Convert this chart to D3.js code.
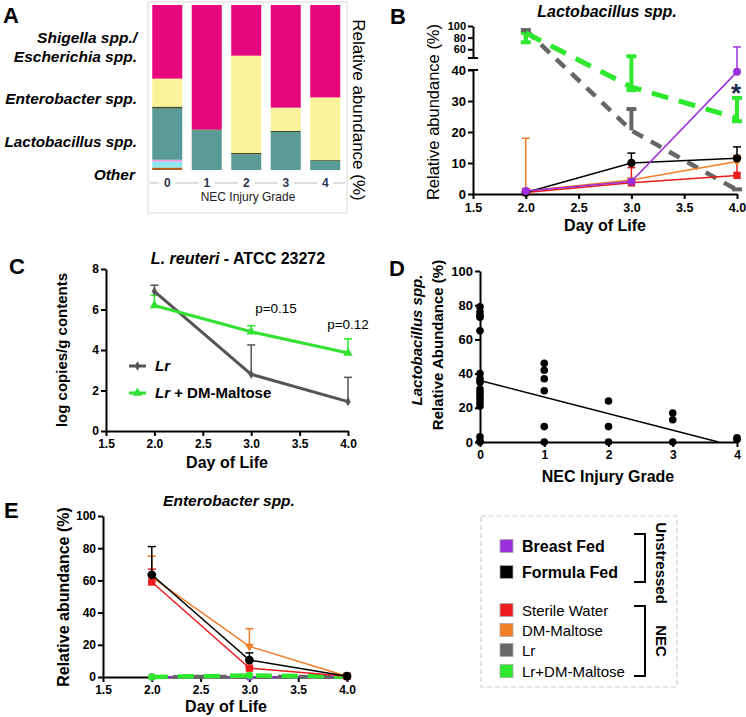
<!DOCTYPE html>
<html><head><meta charset="utf-8">
<script src="https://cdn.jsdelivr.net/npm/d3@7"></script>
<style>body{margin:0;background:#fff}</style>
</head><body><svg id="c" width="746" height="717"></svg>
<script>
const FONT = '"Liberation Sans", Arial, Helvetica, sans-serif';
// ---------- DATA ----------
// Panel A: stacked relative abundance by NEC grade
const aGrades = ["0","1","2","3","4"];
const aLayers = ["Brown","Cyan","Pink","Lactobacillus","Olive","Enterobacter","Shigella"];
const aOtherBrown = [1.5, 0, 0, 0, 0];
const aOtherCyan  = [3.5, 0, 0, 0, 0];
const aOtherPink  = [1.2, 0, 0, 0, 0];
const aLacto      = [31, 24, 9.5, 23, 5.5];
const aOlive      = [1.2, 0.6, 0.8, 0.8, 0.5];
const aEntero     = [17, 0, 59, 14, 38];
const aShigella   = [44.6, 75.4, 30.7, 62.2, 56];
const aColors = ["#b3601c","#8de8ef","#e6a3df","#5b9b97","#3f4f2a","#fbf39b","#e6077f"];
const aLabels = ["Shigella spp./","Escherichia spp.","Enterobacter spp.","Lactobacillus spp.","Other"];

// Panels B and E: day of life
const days = [2, 3, 4];
const dayTicks = [1.5, 2.0, 2.5, 3.0, 3.5, 4.0];
// B: Lactobacillus spp.
const bBreast = [1, 4, 39.4],   bBreastHi = [1.2, 4.2, 64];
const bFormula = [0.5, 10, 11.5], bFormulaHi = [0.7, 13.2, 15.2];
const bSterile = [0.5, 3.6, 6], bSterileHi = [0.7, 8.5, 12];
const bDM = [1, 4.5, 10.5],     bDMHi = [18, 5, 12.5];
const bLr = [93, 20.5, 1.3],    bLrHi = [93, 27.4, 1.5];
const bLrDM = [88, 34.5, 24.5], bLrDMLo = [72, 33.5, 23.5], bLrDMHi = [88, 48, 31];
const bLowTicks = [0, 10, 20, 30, 40], bHighTicks = [60, 80, 100];

// C: L. reuteri qPCR
const cLr = [6.9, 2.8, 1.45],   cLrHi = [7.2, 4.25, 2.65];
const cLrDM = [6.2, 4.9, 3.85], cLrDMHi = [6.7, 5.2, 4.55];
const cYTicks = [0, 2, 4, 6, 8];

// D: scatter by NEC grade
const dGrades = [0, 1, 2, 3, 4];
const dValues = [
  [79, 76, 74, 73, 65, 40, 37, 35, 31, 29, 27, 25, 23, 21, 3, 0.5, 0],
  [46, 42, 37, 30, 9, 0],
  [24, 9, 0],
  [17, 13, 0],
  [2.5, 1.5]
];
const dFitIntercept = 36, dFitSlope = -9.7;
const dYTicks = [0, 20, 40, 60, 80, 100];

// E: Enterobacter spp.
const eBreast = [0, 0, 0];
const eFormula = [63.5, 10.5, 0.5], eFormulaHi = [81, 15, 1];
const eSterile = [59, 5.5, 0.5],    eSterileHi = [67, 6, 1];
const eDM = [62, 19, 0.5],          eDMHi = [75, 30, 1];
const eLr = [0, 0.2, 0];
const eLrDM = [0, 1, 0.3];
const eYTicks = [0, 20, 40, 60, 80, 100];

// Legend
const legUnstressed = ["Breast Fed", "Formula Fed"];
const legNEC = ["Sterile Water", "DM-Maltose", "Lr", "Lr+DM-Maltose"];
const col = {breast:"#9a30dc", formula:"#000000", sterile:"#ec1c1c", dm:"#f07d28", lr:"#666666", lrdm:"#2ee82e"};

// ---------- DRAW ----------
const svg = d3.select("#c").attr("font-family", FONT);

function txt(x, y, s, o = {}) {
  const t = svg.append("text").attr("x", x).attr("y", y).text(s)
    .attr("font-size", o.fs || 14).attr("font-weight", o.fw || "bold")
    .attr("font-style", o.it ? "italic" : "normal")
    .attr("text-anchor", o.anchor || "start").attr("fill", o.fill || "#000");
  if (o.rot) t.attr("transform", `rotate(${o.rot},${x},${y})`);
  return t;
}
function styleAxis(g, fs) {
  g.attr("font-family", FONT).attr("font-size", fs).attr("font-weight", "bold");
  g.select(".domain").attr("stroke", "#000").attr("stroke-width", 2);
  g.selectAll(".tick line").attr("stroke", "#000").attr("stroke-width", 2);
  g.selectAll(".tick text").attr("fill", "#000");
}
function errBar(x, y0, y1, color, w, cap) {
  svg.append("line").attr("x1", x).attr("x2", x).attr("y1", y0).attr("y2", y1)
    .attr("stroke", color).attr("stroke-width", w);
  svg.append("line").attr("x1", x - cap).attr("x2", x + cap).attr("y1", y1).attr("y2", y1)
    .attr("stroke", color).attr("stroke-width", w);
}
function series(xs, ys, vals, color, o = {}) {
  const line = d3.line().x((d, i) => xs(days[i])).y(d => ys(d));
  svg.append("path").attr("d", line(vals)).attr("fill", "none").attr("stroke", color)
    .attr("stroke-width", o.w || 1.5).attr("stroke-dasharray", o.dash || null);
  if (o.sym) {
    vals.forEach((v, i) => {
      svg.append("path").attr("d", d3.symbol().type(o.sym).size(o.size || 40)())
        .attr("transform", `translate(${xs(days[i])},${ys(v)})${o.rotSym ? " rotate(180)" : ""}`)
        .attr("fill", color);
    });
  }
}

// Panel letters
[["A",3,23],["B",390,24],["C",9,274],["D",389,276],["E",4,518]].forEach(([l,x,y]) =>
  txt(x, y, l, {fs: 22}));

// ---- Panel A ----
const ax = d3.scaleBand().domain(aGrades).range([147.5, 345]).paddingInner(0.24).paddingOuter(0.12);
const ay = d3.scaleLinear().domain([0, 100]).range([170, 5]);
svg.append("rect").attr("x", 148).attr("y", 2).attr("width", 199).attr("height", 211)
  .attr("fill", "none").attr("stroke", "#d8d8d8").attr("stroke-width", 1);
const aRows = aGrades.map((g, i) => ({g, Brown: aOtherBrown[i], Cyan: aOtherCyan[i], Pink: aOtherPink[i],
  Lactobacillus: aLacto[i], Olive: aOlive[i], Enterobacter: aEntero[i], Shigella: aShigella[i]}));
const stack = d3.stack().keys(aLayers)(aRows);
stack.forEach((layer, li) => {
  layer.forEach(d => {
    if (d[1] - d[0] <= 0) return;
    svg.append("rect").attr("x", ax(d.data.g)).attr("width", ax.bandwidth())
      .attr("y", ay(d[1])).attr("height", ay(d[0]) - ay(d[1])).attr("fill", aColors[li]);
  });
});
// A x "axis" with grey segments between labels
aGrades.forEach((g, i) => {
  const cx = ax(g) + ax.bandwidth() / 2;
  txt(cx, 187, g, {fs: 12, anchor: "middle", fill: "#2a3550"});
  const segEnd = cx - 8, segStart = i === 0 ? 150 : ax(aGrades[i - 1]) + ax.bandwidth() / 2 + 8;
  svg.append("line").attr("x1", segStart).attr("x2", segEnd).attr("y1", 183).attr("y2", 183)
    .attr("stroke", "#c8c8c8").attr("stroke-width", 1.2);
});
svg.append("line").attr("x1", ax("4") + ax.bandwidth() / 2 + 8).attr("x2", 345).attr("y1", 183).attr("y2", 183)
  .attr("stroke", "#c8c8c8").attr("stroke-width", 1.2);
txt(248, 201, "NEC Injury Grade", {fs: 12, fw: "normal", anchor: "middle", fill: "#222"});
txt(137, 43, aLabels[0], {fs: 15.5, it: true, anchor: "end"});
txt(137, 62, aLabels[1], {fs: 15.5, it: true, anchor: "end"});
txt(137, 104, aLabels[2], {fs: 15.5, it: true, anchor: "end"});
txt(137, 147, aLabels[3], {fs: 15.2, it: true, anchor: "end"});
txt(135, 180, aLabels[4], {fs: 15.5, it: true, anchor: "end"});
txt(353, 110, "Relative abundance (%)", {fs: 17, fw: "normal", anchor: "middle", rot: 90});

// ---- Panel B ----
const bx = d3.scaleLinear().domain([1.5, 4]).range([473, 737]);
const byLow = d3.scaleLinear().domain([0, 40]).range([194, 70]);
const byHigh = d3.scaleLinear().domain([45, 100]).range([58, 26]);
const by = v => v <= 40 ? byLow(v) : (v >= 45 ? byHigh(v) : 70 - (v - 40) / 5 * 12);
let g = svg.append("g").attr("transform", "translate(0,194)")
  .call(d3.axisBottom(bx).tickValues(dayTicks).tickFormat(d3.format(".1f")).tickSize(5).tickSizeOuter(0).tickPadding(4));
styleAxis(g, 12.5);
g = svg.append("g").attr("transform", "translate(473,0)")
  .call(d3.axisLeft(byLow).tickValues(bLowTicks).tickSize(5).tickSizeOuter(0).tickPadding(2));
styleAxis(g, 13);
g = svg.append("g").attr("transform", "translate(473,0)")
  .call(d3.axisLeft(byHigh).tickValues(bHighTicks).tickSize(5).tickSizeOuter(0).tickPadding(2));
styleAxis(g, 11);
// break marks
[byLow(40), byHigh(45)].forEach(y => svg.append("line").attr("x1", 468).attr("x2", 478)
  .attr("y1", y).attr("y2", y).attr("stroke", "#000").attr("stroke-width", 2));
txt(607, 17, "Lactobacillus spp.", {fs: 16, it: true, anchor: "middle"});
txt(605, 231, "Day of Life", {fs: 16, anchor: "middle"});
txt(439, 112, "Relative abundance (%)", {fs: 16.5, fw: "normal", anchor: "middle", rot: -90});

// B error bars & lines
days.forEach((d, i) => {
  errBar(bx(d), by(bLrDMLo[i]), by(bLrDMHi[i]), col.lrdm, 4, 5);
  errBar(bx(d), by(bLrDM[i]), by(bLrDMLo[i]), col.lrdm, 4, 5);
  errBar(bx(d), by(bLr[i]), by(bLrHi[i]), col.lr, 4, 5);
});
series(bx, by, bLr, col.lr, {w: 4.5, dash: "12,9"});
series(bx, by, bLrDM, col.lrdm, {w: 5, dash: "17,11"});
days.forEach((d, i) => {
  errBar(bx(d), by(bDM[i]), by(bDMHi[i]), col.dm, 1.5, 4);
  errBar(bx(d), by(bSterile[i]), by(bSterileHi[i]), col.sterile, 1.5, 4);
  errBar(bx(d), by(bFormula[i]), by(bFormulaHi[i]), col.formula, 1.5, 4);
  errBar(bx(d), by(bBreast[i]), by(bBreastHi[i]), col.breast, 1.5, 4);
});
series(bx, by, bDM, col.dm, {sym: d3.symbolTriangle, size: 35, rotSym: true});
series(bx, by, bSterile, col.sterile, {sym: d3.symbolSquare, size: 55});
series(bx, by, bFormula, col.formula, {sym: d3.symbolCircle, size: 55});
series(bx, by, bBreast, col.breast, {sym: d3.symbolCircle, size: 50});
txt(736, 102, "*", {fs: 26, anchor: "middle", fill: "#1c2b4c"});

// ---- Panel C ----
const cx = d3.scaleLinear().domain([1.5, 4]).range([106, 348]);
const cy = d3.scaleLinear().domain([0, 8]).range([431, 269]);
g = svg.append("g").attr("transform", "translate(0,431)")
  .call(d3.axisBottom(cx).tickValues(dayTicks).tickFormat(d3.format(".1f")).tickSize(5).tickSizeOuter(0).tickPadding(3));
styleAxis(g, 12);
g = svg.append("g").attr("transform", "translate(106,0)")
  .call(d3.axisLeft(cy).tickValues(cYTicks).tickSize(5).tickSizeOuter(0).tickPadding(2));
styleAxis(g, 12);
const tC = txt(238, 264, "", {fs: 16, anchor: "middle"});
tC.append("tspan").attr("font-style", "italic").text("L. reuteri");
tC.append("tspan").text(" - ATCC 23272");
txt(227, 468, "Day of Life", {fs: 16, anchor: "middle"});
txt(67, 350, "log copies/g contents", {fs: 15, anchor: "middle", rot: -90});
days.forEach((d, i) => {
  errBar(cx(d), cy(cLr[i]), cy(cLrHi[i]), "#555", 1.5, 4);
  errBar(cx(d), cy(cLrDM[i]), cy(cLrDMHi[i]), col.lrdm, 1.5, 4);
});
series(cx, cy, cLr, "#555", {w: 3, sym: d3.symbolDiamond, size: 25});
series(cx, cy, cLrDM, "#33e033", {w: 3, sym: d3.symbolTriangle, size: 40});
txt(276, 313, "p=0.15", {fs: 13.5, fw: "normal", anchor: "middle"});
txt(348, 329, "p=0.12", {fs: 13.5, fw: "normal", anchor: "middle"});
// C legend
svg.append("line").attr("x1", 129).attr("x2", 146).attr("y1", 366).attr("y2", 366).attr("stroke", "#555").attr("stroke-width", 3);
svg.append("path").attr("d", d3.symbol().type(d3.symbolDiamond).size(25)()).attr("transform", "translate(137.5,366)").attr("fill", "#555");
svg.append("line").attr("x1", 129).attr("x2", 146).attr("y1", 393).attr("y2", 393).attr("stroke", "#33e033").attr("stroke-width", 3);
svg.append("path").attr("d", d3.symbol().type(d3.symbolTriangle).size(40)()).attr("transform", "translate(137.5,393)").attr("fill", "#33e033");
const l1 = txt(155, 371, "", {fs: 15});
l1.append("tspan").attr("font-style", "italic").text("Lr");
const l2 = txt(155, 398, "", {fs: 15});
l2.append("tspan").attr("font-style", "italic").text("Lr");
l2.append("tspan").text(" + DM-Maltose");

// ---- Panel D ----
const dx = d3.scaleLinear().domain([0, 4]).range([480, 737]);
const dy = d3.scaleLinear().domain([0, 100]).range([442, 271]);
g = svg.append("g").attr("transform", "translate(0,442)")
  .call(d3.axisBottom(dx).tickValues(dGrades).tickFormat(d3.format("d")).tickSize(5).tickSizeOuter(0).tickPadding(3));
styleAxis(g, 12);
g = svg.append("g").attr("transform", "translate(480,0)")
  .call(d3.axisLeft(dy).tickValues(dYTicks).tickFormat(d3.format("d")).tickSize(5).tickSizeOuter(0).tickPadding(2));
styleAxis(g, 13);
const xEnd = -dFitIntercept / dFitSlope;
svg.append("line").attr("x1", dx(0)).attr("y1", dy(dFitIntercept)).attr("x2", dx(xEnd)).attr("y2", dy(0))
  .attr("stroke", "#000").attr("stroke-width", 1.5);
dValues.forEach((vals, gi) => vals.forEach(v =>
  svg.append("circle").attr("cx", dx(dGrades[gi])).attr("cy", dy(v)).attr("r", 3.8).attr("fill", "#000")));
txt(608, 482, "NEC Injury Grade", {fs: 16, anchor: "middle"});
txt(422, 340, "Lactobacillus spp.", {fs: 15, it: true, anchor: "middle", rot: -90});
txt(443, 345, "Relative Abundance (%)", {fs: 15, anchor: "middle", rot: -90});

// ---- Panel E ----
const ex = d3.scaleLinear().domain([1.5, 4]).range([103, 347]);
const ey = d3.scaleLinear().domain([0, 100]).range([677, 516]);
g = svg.append("g").attr("transform", "translate(0,677)")
  .call(d3.axisBottom(ex).tickValues(dayTicks).tickFormat(d3.format(".1f")).tickSize(5).tickSizeOuter(0).tickPadding(3));
styleAxis(g, 12);
g = svg.append("g").attr("transform", "translate(103,0)")
  .call(d3.axisLeft(ey).tickValues(eYTicks).tickSize(5).tickSizeOuter(0).tickPadding(2));
styleAxis(g, 12);
txt(229, 506, "Enterobacter spp.", {fs: 15.5, it: true, anchor: "middle"});
txt(226, 712, "Day of Life", {fs: 16, anchor: "middle"});
txt(69, 597, "Relative abundance (%)", {fs: 16, anchor: "middle", rot: -90});
days.forEach((d, i) => {
  errBar(ex(d), ey(eDM[i]), ey(eDMHi[i]), col.dm, 1.5, 4);
  errBar(ex(d), ey(eSterile[i]), ey(eSterileHi[i]), col.sterile, 1.5, 4);
  errBar(ex(d), ey(eFormula[i]), ey(eFormulaHi[i]), col.formula, 1.5, 4);
});
series(ex, ey, eBreast, col.breast, {sym: d3.symbolCircle, size: 45});
series(ex, ey, eLr, col.lr, {w: 4, dash: "12,9"});
series(ex, ey, eLrDM, col.lrdm, {w: 4.5, dash: "16,10", sym: d3.symbolCircle, size: 45});
series(ex, ey, eDM, col.dm, {sym: d3.symbolTriangle, size: 35, rotSym: true});
series(ex, ey, eSterile, col.sterile, {sym: d3.symbolSquare, size: 55});
series(ex, ey, eFormula, col.formula, {sym: d3.symbolCircle, size: 60});

// ---- Legend ----
svg.append("rect").attr("x", 481).attr("y", 516).attr("width", 196).attr("height", 171)
  .attr("fill", "none").attr("stroke", "#d0d0d0").attr("stroke-width", 1.2).attr("stroke-dasharray", "5,3");
const legColors = [col.breast, col.formula, col.sterile, col.dm, col.lr, col.lrdm];
const legY = [546, 572, 610, 630, 650, 671];
legUnstressed.concat(legNEC).forEach((name, i) => {
  svg.append("rect").attr("x", 500).attr("y", legY[i] - 6.5).attr("width", 13).attr("height", 13)
    .attr("fill", legColors[i]).attr("stroke", "#aaa").attr("stroke-width", 0.8);
  txt(522, legY[i] + 6, name, {fs: i < 2 ? 16 : 15, fw: i < 2 ? "bold" : "normal"});
});
function bracket(y0, y1) {
  svg.append("path").attr("d", `M634,${y0}H645V${y1}H634`).attr("fill", "none")
    .attr("stroke", "#000").attr("stroke-width", 2);
}
bracket(534, 582);
bracket(606, 676);
txt(656, 563, "Unstressed", {fs: 15, anchor: "middle", rot: 90});
txt(656, 641, "NEC", {fs: 15, anchor: "middle", rot: 90});
</script></body></html>
